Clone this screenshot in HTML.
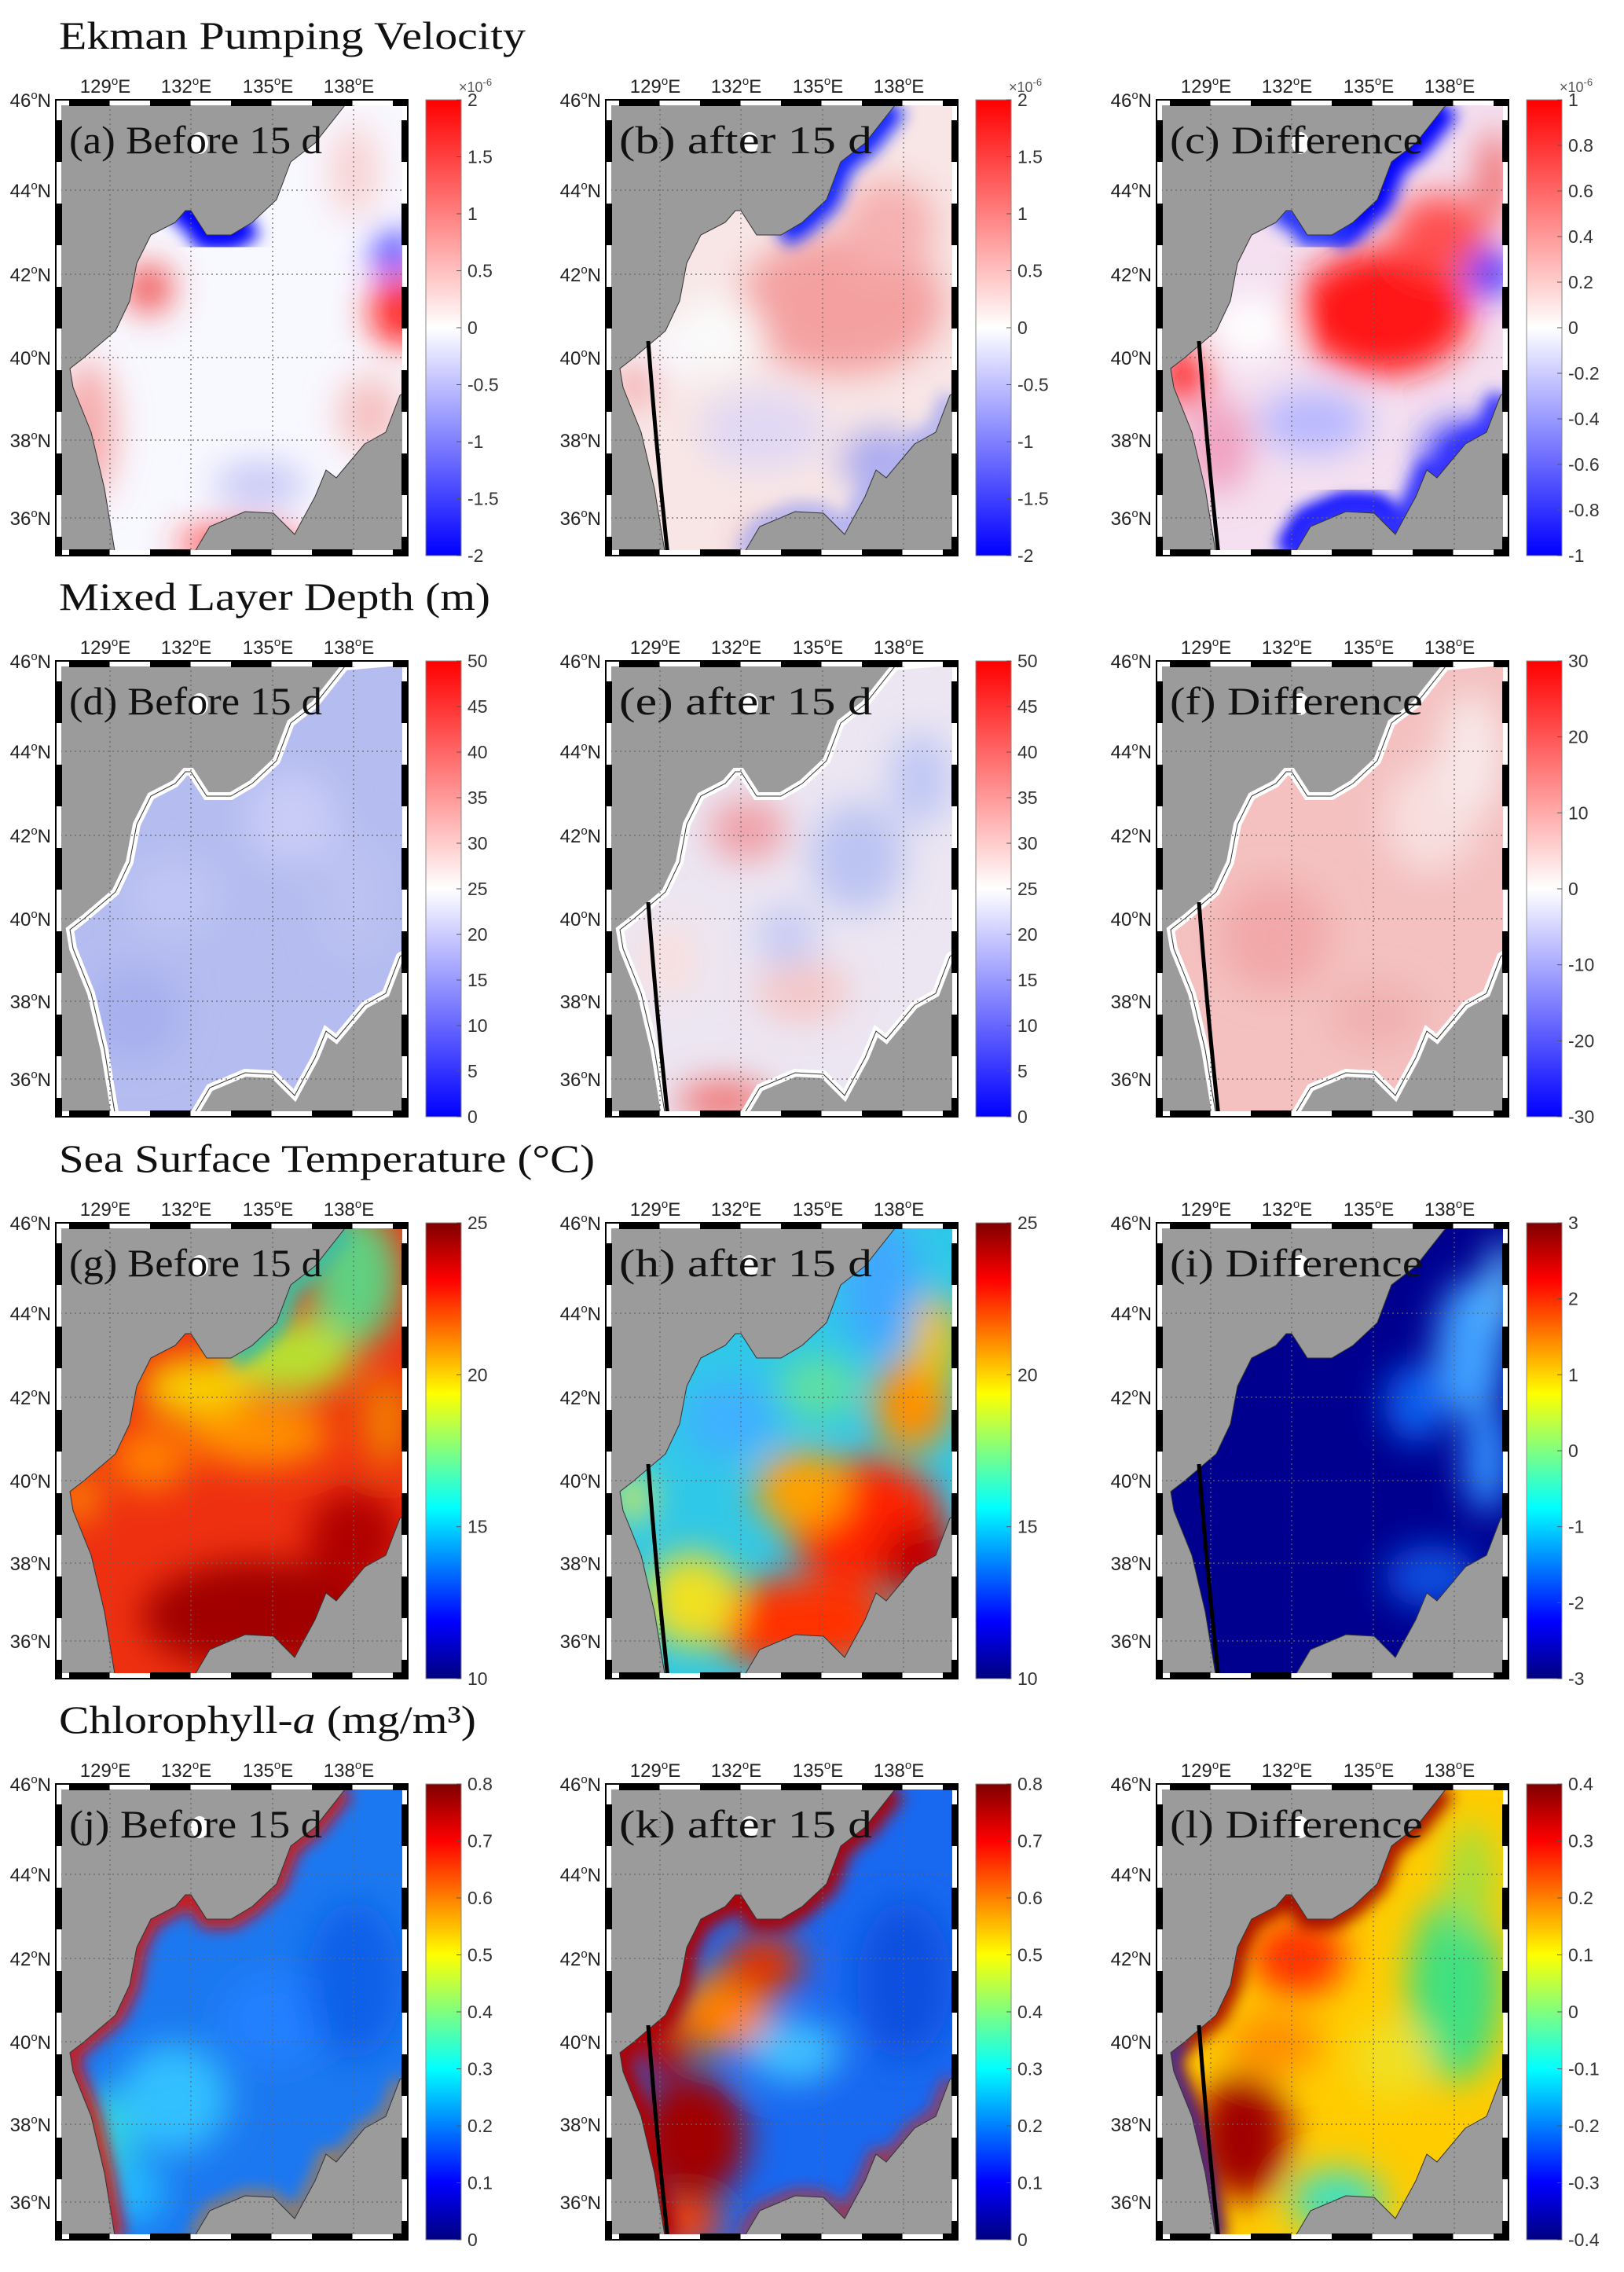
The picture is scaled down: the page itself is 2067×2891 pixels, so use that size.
<!DOCTYPE html>
<html><head><meta charset="utf-8"><style>
html,body{margin:0;padding:0;background:#fff;}
svg{display:block;}
</style></head><body>
<svg id="s" xmlns="http://www.w3.org/2000/svg" width="2067" height="2891" viewBox="0 0 2067 2891">
<defs>
<filter id="bl" x="-50%" y="-50%" width="200%" height="200%"><feGaussianBlur stdDeviation="22"/></filter>
<filter id="bs" x="-50%" y="-50%" width="200%" height="200%"><feGaussianBlur stdDeviation="10"/></filter>
<clipPath id="sea" clipPathUnits="userSpaceOnUse"><path id="seap0" d=""/></clipPath>
<linearGradient id="bwr" x1="0" y1="1" x2="0" y2="0">
<stop offset="0" stop-color="#0000ff"/><stop offset="0.5" stop-color="#ffffff"/><stop offset="1" stop-color="#ff0000"/></linearGradient>
<linearGradient id="jet" x1="0" y1="1" x2="0" y2="0">
<stop offset="0" stop-color="#00007f"/><stop offset="0.125" stop-color="#0000ff"/><stop offset="0.375" stop-color="#00ffff"/><stop offset="0.625" stop-color="#ffff00"/><stop offset="0.875" stop-color="#ff0000"/><stop offset="1" stop-color="#7f0000"/></linearGradient>
</defs>
<g id="root"></g>
</svg>
<script>
var pts=[[368,7],[448,0],[448,370],[438,376],[420,423],[393,438],[357,481],[344,471],[330,505],[312,538],[304,553],[277,526],[241,524],[196,543],[174,580],[76,580],[62,495],[45,423],[22,366],[18,342],[36,328],[76,294],[94,256],[103,208],[121,172],[152,156],[165,141],[172,141],[192,172],[223,172],[250,156],[281,127],[299,79],[330,55]];
function pl(a,b){var s=[];for(var i=a;i<=b;i++)s.push(pts[i%pts.length]);return "M"+s.map(function(p){return p[0]+","+p[1]}).join(" L");}
var D="M"+pts.map(function(p){return p[0]+","+p[1]}).join(" L")+" Z";
document.getElementById("seap0").setAttribute("d",D);
var WEST=pl(15,34), NE=pl(29,34), NB=pl(25,30), SJ=pl(3,14), KS=pl(15,20);
var root=document.getElementById("root");
var h="";
var cols=[71,771,1472], rows=[127,841,1556,2270];
var titles=[["Ekman Pumping Velocity",594],["Mixed Layer Depth (m)",549],["Sea Surface Temperature (°C)",682],["Chlorophyll-<tspan font-style='italic'>a</tspan> (mg/m³)",531]];
var labs=[["(a) Before 15 d","(b) after 15 d","(c) Difference"],["(d) Before 15 d","(e) after 15 d","(f) Difference"],["(g) Before 15 d","(h) after 15 d","(i) Difference"],["(j) Before 15 d","(k) after 15 d","(l) Difference"]];
var ticks=[[["2","1.5","1","0.5","0","-0.5","-1","-1.5","-2"],["2","1.5","1","0.5","0","-0.5","-1","-1.5","-2"],["1","0.8","0.6","0.4","0.2","0","-0.2","-0.4","-0.6","-0.8","-1"]],
[["50","45","40","35","30","25","20","15","10","5","0"],["50","45","40","35","30","25","20","15","10","5","0"],["30","20","10","0","-10","-20","-30"]],
[["25","20","15","10"],["25","20","15","10"],["3","2","1","0","-1","-2","-3"]],
[["0.8","0.7","0.6","0.5","0.4","0.3","0.2","0.1","0"],["0.8","0.7","0.6","0.5","0.4","0.3","0.2","0.1","0"],["0.4","0.3","0.2","0.1","0","-0.1","-0.2","-0.3","-0.4"]]];
var P={
a:{base:"#f8f8ff",b:[[40,420,35,90,"#f6a8a8"],[118,240,28,30,"#f03838"],[440,270,40,45,"#ff2020"],[430,195,25,28,"#2828ff"],[235,565,80,22,"#ff3030"],[260,490,60,30,"#c8c8f6"],[380,90,30,60,"#f8d0d0"],[400,400,40,50,"#f6c0c0"]],s:[[NB,"#0000ff",40]]},
b:{base:"#f8e6e6",b:[[300,260,130,90,"#f4a0a0"],[360,160,60,60,"#f6b0b0"],[60,330,50,40,"#f8f8ff"],[140,300,60,50,"#fafafa"],[350,460,50,40,"#a8a8f0"],[200,420,80,50,"#e0d8f4"],[40,360,25,30,"#f4a0a0"],[220,560,60,20,"#f0c0c0"]],s:[[NE,"#1020ff",34],[SJ,"#b0b0f0",24]]},
c:{base:"#f4e0f0",b:[[290,270,110,80,"#ff1818"],[360,170,60,50,"#ff5050"],[425,220,30,30,"#2020ff"],[390,450,50,40,"#3030ff"],[35,350,30,40,"#ff2020"],[120,290,50,40,"#ffffff"],[200,410,70,40,"#b8b8ff"],[80,440,40,60,"#f0a0c0"],[430,100,20,60,"#f06060"]],s:[[NE,"#0000ff",40],[NB,"#2030ff",30],[pl(9,14),"#0000ff",50],[SJ,"#3030ff",30]]},
d:{base:"#b4bcf0",b:[[300,200,60,60,"#c8ccf6"],[150,300,60,50,"#c0c6f4"],[100,450,60,60,"#a8b0ee"],[380,300,50,80,"#bcc2f2"]],edge:1},
e:{base:"#ece6f2",b:[[180,215,50,40,"#f0a0a8"],[320,250,60,70,"#bcc4f2"],[150,560,60,25,"#f07070"],[250,420,60,40,"#f4c8c8"],[80,380,40,50,"#f8e0e0"],[400,150,40,60,"#c0c8f4"],[230,350,40,40,"#c8ccf4"]],edge:1},
f:{base:"#f4c0c0",b:[[350,200,60,70,"#f8dede"],[150,350,70,70,"#f2a8a8"],[280,450,60,40,"#f0b0b0"],[400,120,40,80,"#f8e8e8"]],edge:1},
g:{base:"#ee3010",b:[[380,70,60,90,"#60d080"],[300,170,80,50,"#b8e030"],[180,210,70,40,"#f8d000"],[260,270,90,40,"#ff9000"],[260,500,150,70,"#a00000"],[380,400,60,60,"#b00000"],[30,350,20,30,"#ffa000"],[420,250,30,60,"#f08000"],[120,300,50,40,"#ff8000"]],s:[[NE,"#40c0a0",30]]},
h:{base:"#30c8e8",b:[[350,80,50,90,"#40a8ff"],[330,380,100,80,"#ff2000"],[400,430,50,50,"#c00000"],[390,230,50,60,"#ff9000"],[420,150,30,60,"#f0c000"],[250,510,120,60,"#ff3000"],[250,340,60,50,"#ffa000"],[110,480,60,60,"#f0e020"],[35,350,22,30,"#f0f040"],[160,250,60,50,"#40b0ff"],[270,210,50,40,"#60e0a0"]]},
i:{base:"#00008f",b:[[400,160,45,90,"#40a0ff"],[420,300,30,70,"#3090ff"],[350,450,60,40,"#1050e0"],[330,230,40,50,"#1060f0"],[440,80,20,60,"#60c0ff"]]},
j:{base:"#1c78f0",b:[[150,400,70,70,"#30c0ff"],[280,300,70,60,"#2080ff"],[380,250,60,100,"#1060e8"],[60,450,40,60,"#30d0e0"],[100,520,40,40,"#20b8ff"]],s:[[WEST,"#e01000",22],[SJ,"#f08000",10]]},
k:{base:"#1868f0",b:[[110,450,70,80,"#a00000"],[150,290,60,50,"#ff8000"],[240,340,60,40,"#40c0ff"],[200,230,50,40,"#e03000"],[100,560,50,30,"#ff4000"],[380,250,60,100,"#0850e0"],[70,330,40,40,"#c00000"]],s:[[WEST,"#b00000",30],[SJ,"#e02000",12]]},
l:{base:"#ffcc00",b:[[380,260,60,120,"#40e080"],[180,220,60,50,"#ff3000"],[110,450,60,80,"#a00000"],[230,530,60,40,"#40e0c0"],[300,350,50,50,"#f0e020"],[150,330,60,40,"#ff9000"],[400,120,30,70,"#a0e040"]],s:[[WEST,"#a00000",26],[KS,"#0040ff",12]]}
};
var keys="abcdefghijkl";
var latY=[[46,0],[44,115],[42,222],[40,328],[38,433],[36,532]];
var lonX=[[129,69],[132,172],[135,276],[138,379]];
for(var r=0;r<4;r++){
 var ty=rows[r]-65;
 h+="<text x='75' y='"+ty+"' font-family='Liberation Serif, serif' font-size='50' fill='#111' textLength='"+titles[r][1]+"' lengthAdjust='spacingAndGlyphs'>"+titles[r][0]+"</text>";
 for(var c=0;c<3;c++){
  var k=keys[r*3+c], p=P[k], fx=cols[c], fy=rows[r];
  h+="<g transform='translate("+fx+","+fy+")'>";
  h+="<rect x='0' y='0' width='448' height='580' fill='#9b9b9b'/>";
  h+="<g clip-path='url(#sea)'><rect x='0' y='0' width='448' height='580' fill='"+p.base+"'/><g filter='url(#bl)'>";
  p.b.forEach(function(b){h+="<ellipse cx='"+b[0]+"' cy='"+b[1]+"' rx='"+b[2]+"' ry='"+b[3]+"' fill='"+b[4]+"'/>";});
  h+="</g>";
  if(p.s) p.s.forEach(function(s){h+="<path d='"+s[0]+"' fill='none' stroke='"+s[1]+"' stroke-width='"+s[2]+"' stroke-linejoin='round' filter='url(#bs)'/>";});
  h+="</g>";
  if(p.edge) h+="<path d='"+D+"' fill='none' stroke='#fff' stroke-width='10'/>";
  h+="<path d='"+D+"' fill='none' stroke='#333' stroke-width='1'/>";
  h+="<ellipse cx='183' cy='55' rx='11' ry='14' fill='#fff'/>";
  lonX.forEach(function(l){h+="<line x1='"+l[1]+"' y1='0' x2='"+l[1]+"' y2='580' stroke='#666' stroke-width='1.2' stroke-dasharray='2,4'/>";});
  latY.forEach(function(l){if(l[1]>0)h+="<line x1='0' y1='"+l[1]+"' x2='448' y2='"+l[1]+"' stroke='#666' stroke-width='1.2' stroke-dasharray='2,4'/>";});
  if(c>0) h+="<path d='M54,307 Q64,440 79,580' fill='none' stroke='#000' stroke-width='5'/>";
  h+="<rect x='4' y='4' width='440' height='572' fill='none' stroke='#fff' stroke-width='6'/>";
  h+="<line x1='0' y1='4' x2='448' y2='4' stroke='#000' stroke-width='8' stroke-dasharray='51.5,51.5' stroke-dashoffset='-17'/>";
  h+="<line x1='0' y1='576' x2='448' y2='576' stroke='#000' stroke-width='8' stroke-dasharray='51.5,51.5' stroke-dashoffset='-17'/>";
  h+="<line x1='4' y1='0' x2='4' y2='580' stroke='#000' stroke-width='8' stroke-dasharray='53,53' stroke-dashoffset='-26'/>";
  h+="<line x1='444' y1='0' x2='444' y2='580' stroke='#000' stroke-width='8' stroke-dasharray='53,53' stroke-dashoffset='-26'/>";
  h+="<rect x='0' y='0' width='448' height='580' fill='none' stroke='#000' stroke-width='2'/>";
  h+="<text x='17' y='68' font-family='Liberation Serif, serif' font-size='50' fill='#111' textLength='322' lengthAdjust='spacingAndGlyphs'>"+labs[r][c]+"</text>";
  lonX.forEach(function(l){h+="<text x='"+(l[1]-6)+"' y='-9' text-anchor='middle' font-family='Liberation Sans, sans-serif' font-size='24' fill='#222'>"+l[0]+"<tspan font-size='15' dy='-10'>o</tspan><tspan dy='10'>E</tspan></text>";});
  latY.forEach(function(l){h+="<text x='-6' y='"+(l[1]+9)+"' text-anchor='end' font-family='Liberation Sans, sans-serif' font-size='24' fill='#222'>"+l[0]+"<tspan font-size='15' dy='-10'>o</tspan><tspan dy='10'>N</tspan></text>";});
  var g=(r<2)?"bwr":"jet";
  h+="<rect x='471' y='0' width='45' height='580' fill='url(#"+g+")' stroke='#888' stroke-width='1'/>";
  var t=ticks[r][c], n=t.length;
  for(var i=0;i<n;i++){var yy=580*i/(n-1);
   h+="<line x1='510' y1='"+yy+"' x2='516' y2='"+yy+"' stroke='#555' stroke-width='1'/>";
   h+="<text x='524' y='"+(yy+8)+"' font-family='Liberation Sans, sans-serif' font-size='23' fill='#333'>"+t[i]+"</text>";}
  if(r==0) h+="<text x='513' y='-10' font-family='Liberation Sans, sans-serif' font-size='18' fill='#555'>×10<tspan font-size='13' dy='-8'>-6</tspan></text>";
  h+="</g>";
 }
}
root.innerHTML=h;
</script>
</body></html>
